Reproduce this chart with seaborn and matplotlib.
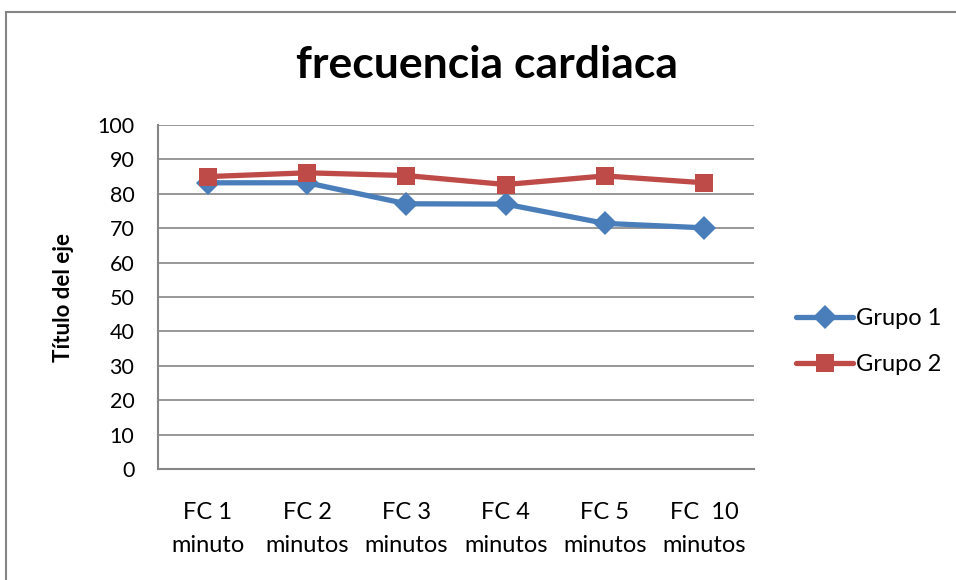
import matplotlib
matplotlib.use('Agg')
import matplotlib.pyplot as plt
import seaborn as sns
import pandas as pd
from matplotlib.patches import Rectangle

categorias = ['FC 1\nminuto', 'FC 2\nminutos', 'FC 3\nminutos', 'FC 4\nminutos',
              'FC 5\nminutos', 'FC  10\nminutos']
grupo1 = [83.2, 83.2, 77.1, 77.0, 71.4, 70.1]
grupo2 = [85.0, 86.1, 85.3, 82.7, 85.2, 83.2]

df = pd.DataFrame({'cat': categorias * 2,
                   'valor': grupo1 + grupo2,
                   'grupo': ['Grupo 1'] * 6 + ['Grupo 2'] * 6})
df['x'] = list(range(6)) * 2

sns.set_style('white')
plt.rcParams['font.family'] = ['Lato', 'DejaVu Sans']
plt.rcParams['text.color'] = 'black'
plt.rcParams['xtick.color'] = 'black'
plt.rcParams['ytick.color'] = 'black'
plt.rcParams['axes.labelcolor'] = 'black'

fig = plt.figure(figsize=(9.56, 5.8), dpi=100)
ax = fig.add_axes([158/956, 1-469/580, (754-158)/956, (469-125)/580])

colores = {'Grupo 1': '#4a7ebb', 'Grupo 2': '#be4b48'}
marcadores = {'Grupo 1': 'D', 'Grupo 2': 's'}
for g in ['Grupo 1', 'Grupo 2']:
    sub = df[df['grupo'] == g]
    sns.lineplot(data=sub, x='x', y='valor', ax=ax, color=colores[g],
                 marker=marcadores[g], markersize=13 if g == 'Grupo 2' else 12,
                 markeredgewidth=0, linewidth=3.8, label=g)

ax.set_xlim(-0.5, 5.5)
ax.set_ylim(0, 100)
ax.set_yticks(range(0, 101, 10))
ax.set_xticks(range(6))
ax.set_xticklabels(categorias, linespacing=1.7)
ax.grid(axis='y', color='#868686', linewidth=1.2)
ax.set_axisbelow(True)
for s in ['top', 'right']:
    ax.spines[s].set_visible(False)
for s in ['left', 'bottom']:
    ax.spines[s].set_color('#868686')
    ax.spines[s].set_linewidth(1.5)
ax.tick_params(axis='y', length=5, color='#868686', width=1.2, labelsize=15.5, pad=12)
ax.tick_params(axis='x', length=0, labelsize=17, pad=24)
ax.set_xlabel('')
ax.set_ylabel('Título del eje', fontsize=16, fontweight='bold', labelpad=17)

fig.text(0.509, 0.888, 'frecuencia cardiaca', ha='center', va='center',
         fontsize=32, fontweight='bold')

ax.legend(loc='center left', bbox_to_anchor=(1.055, 0.37), frameon=False,
          fontsize=17, handlelength=2.4, labelspacing=1.05, handletextpad=0.12,
          borderaxespad=0)

fig.patches.append(Rectangle((6/956, -0.05), 1.2, 1 - 12/580 + 0.05,
                             transform=fig.transFigure, fill=False,
                             edgecolor='#868686', linewidth=1.5))

fig.savefig('out.png', dpi=100)
